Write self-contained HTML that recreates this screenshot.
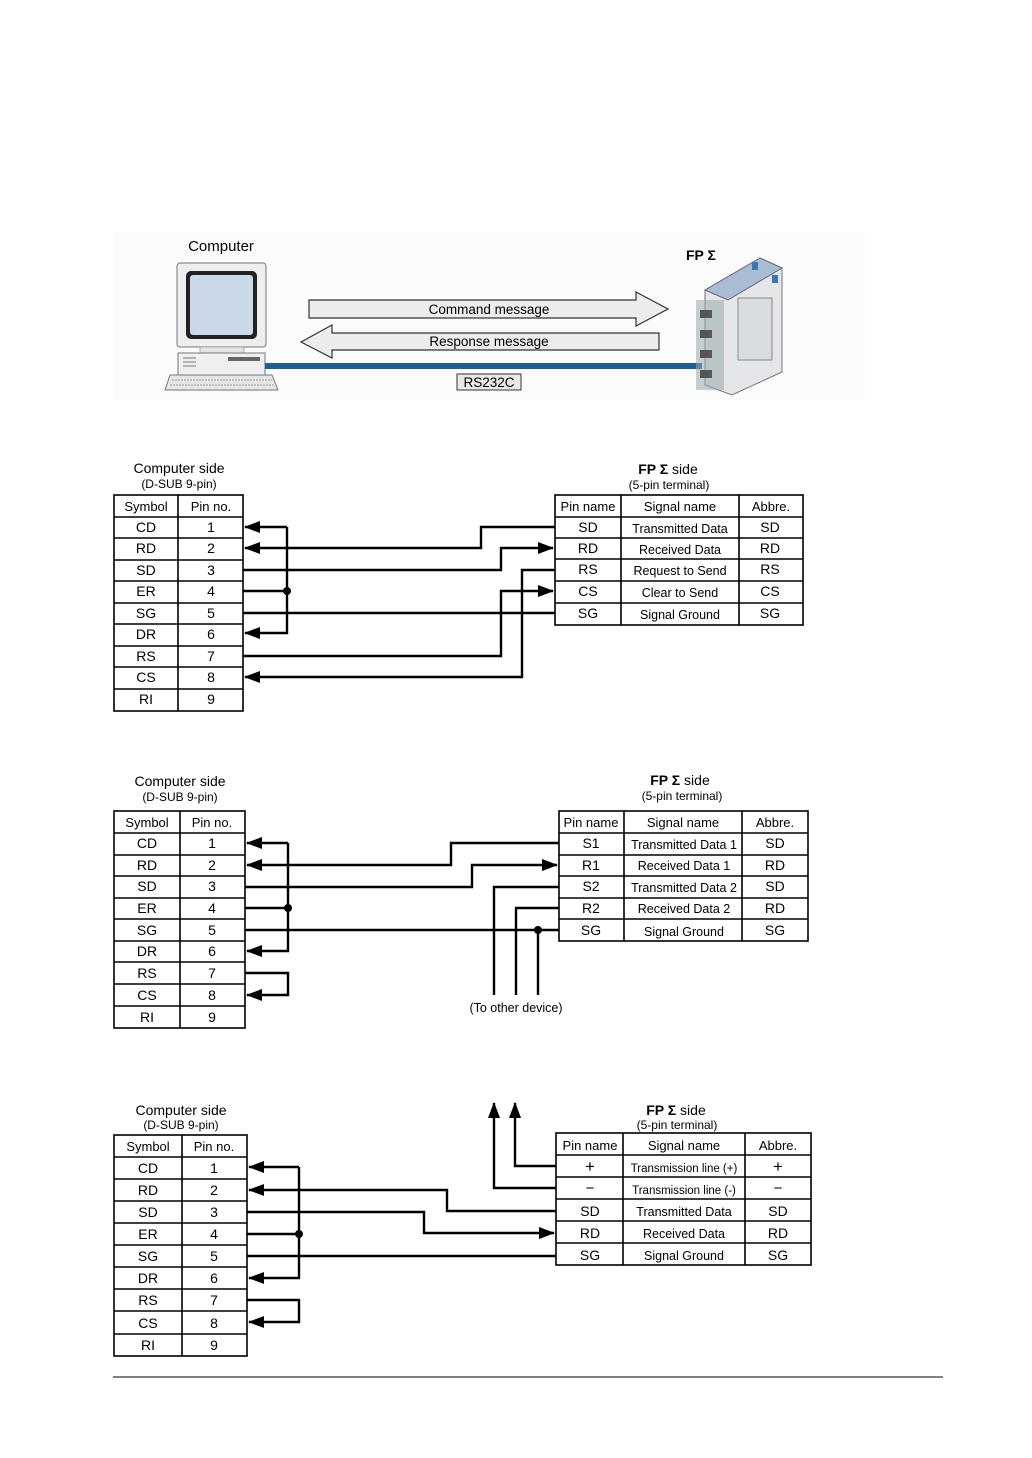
<!DOCTYPE html>
<html><head><meta charset="utf-8"><style>
html,body{margin:0;padding:0;background:#fff;}
svg{display:block;font-family:"Liberation Sans",Arial,sans-serif;}
.t{font-size:14px;text-anchor:middle;}
.s{font-size:12.5px;text-anchor:middle;}
.h{font-size:13px;text-anchor:middle;}
.w{stroke:#000;stroke-width:2.4;fill:none;}
.g{stroke:#000;stroke-width:1.6;fill:none;}
</style></head><body>
<svg width="1032" height="1458" viewBox="0 0 1032 1458" xmlns="http://www.w3.org/2000/svg">
<defs>
<marker id="a" markerWidth="8" markerHeight="8" refX="7" refY="4" orient="auto" markerUnits="userSpaceOnUse" viewBox="0 0 8 8"><path d="M0,0 L8,4 L0,8z" fill="#000"/></marker>
<marker id="b" markerWidth="16" markerHeight="12" refX="15" refY="6" orient="auto" markerUnits="userSpaceOnUse" viewBox="0 0 16 12"><path d="M0,0 L16,6 L0,12z" fill="#000"/></marker>
</defs>

<!-- ===== Top illustration ===== -->
<rect x="113" y="232" width="752" height="168" fill="#fbfbfb"/>
<text x="221" y="251" style="font-size:15px" text-anchor="middle">Computer</text>
<!-- monitor -->
<rect x="177" y="263" width="89" height="84" rx="3" fill="#eee" stroke="#777"/>
<rect x="186" y="271" width="71" height="68" rx="5" fill="#222"/>
<rect x="190" y="275" width="63" height="60" rx="3" fill="#c9d9e8"/>
<rect x="200" y="347" width="44" height="6" fill="#e4e4e4" stroke="#888" stroke-width=".6"/>
<rect x="178" y="353" width="87" height="22" fill="#efefef" stroke="#777"/>
<rect x="228" y="357" width="32" height="4" fill="#666"/>
<line x1="183" y1="358" x2="196" y2="358" stroke="#777"/><line x1="183" y1="362" x2="196" y2="362" stroke="#777"/><line x1="183" y1="366" x2="196" y2="366" stroke="#777"/>
<path d="M170,375 L272,375 L278,390 L165,390z" fill="#e6e6e6" stroke="#777"/>
<path d="M172,380 L272,380 M170,385 L275,385" stroke="#999" stroke-dasharray="2,1"/>
<!-- cable -->
<rect x="265" y="363" width="437" height="6" fill="#1c5f92"/>
<rect x="457" y="374" width="64" height="16" fill="#e8e8e8" stroke="#333"/>
<text x="489" y="387" style="font-size:13.5px" text-anchor="middle">RS232C</text>
<!-- arrows -->
<path d="M309,300 L636,300 L636,292 L668,309 L636,326 L636,318 L309,318z" fill="#ececec" stroke="#333" stroke-width="1.2"/>
<text x="489" y="314" style="font-size:13.5px" text-anchor="middle">Command message</text>
<path d="M659,333 L659,350 L332,350 L332,358 L301,342 L332,325 L332,333z" fill="#ececec" stroke="#333" stroke-width="1.2"/>
<text x="489" y="346" style="font-size:13.5px" text-anchor="middle">Response message</text>
<!-- PLC -->
<text x="686" y="260" style="font-size:14px;font-weight:bold">FP Σ</text>
<path d="M705,290 L760,258 L782,268 L782,372 L732,395 L705,385z" fill="#e4e6ea" stroke="#777"/>
<path d="M705,290 L760,258 L782,268 L728,300z" fill="#a9bdd2" stroke="#667"/>
<rect x="738" y="298" width="34" height="62" fill="#d8dbe0" stroke="#888"/>
<rect x="696" y="300" width="28" height="90" fill="#9aa" opacity=".55"/>
<g fill="#555"><rect x="700" y="310" width="12" height="8"/><rect x="700" y="330" width="12" height="8"/><rect x="700" y="350" width="12" height="8"/><rect x="700" y="370" width="12" height="8"/></g>
<rect x="752" y="262" width="6" height="8" fill="#3a78b5"/><rect x="772" y="275" width="6" height="8" fill="#3a78b5"/>

<!-- ===== Diagram 1 ===== -->
<text x="179" y="473" class="t">Computer side</text>
<text x="179" y="488" style="font-size:12px" text-anchor="middle">(D-SUB 9-pin)</text>
<text x="668" y="474" class="t"><tspan font-weight="bold">FP Σ</tspan> side</text>
<text x="669" y="489" style="font-size:12px" text-anchor="middle">(5-pin terminal)</text>
<g class="g">
<rect x="114" y="495" width="129" height="216"/>
<line x1="178" y1="495" x2="178" y2="711"/>
<path d="M114,517H243M114,538H243M114,560H243M114,581H243M114,603H243M114,624H243M114,646H243M114,667H243M114,689H243"/>
<rect x="555" y="495" width="248" height="130"/>
<path d="M621,495V625M739,495V625M555,517H803M555,538H803M555,559H803M555,581H803M555,603H803"/>
</g>
<g class="h"><text x="146" y="511">Symbol</text><text x="211" y="511">Pin no.</text></g>
<g class="t">
<text x="146" y="532">CD</text><text x="211" y="532">1</text>
<text x="146" y="553">RD</text><text x="211" y="553">2</text>
<text x="146" y="575">SD</text><text x="211" y="575">3</text>
<text x="146" y="596">ER</text><text x="211" y="596">4</text>
<text x="146" y="618">SG</text><text x="211" y="618">5</text>
<text x="146" y="639">DR</text><text x="211" y="639">6</text>
<text x="146" y="661">RS</text><text x="211" y="661">7</text>
<text x="146" y="682">CS</text><text x="211" y="682">8</text>
<text x="146" y="704">RI</text><text x="211" y="704">9</text>
<text x="588" y="532">SD</text><text x="770" y="532">SD</text>
<text x="588" y="553">RD</text><text x="770" y="553">RD</text>
<text x="588" y="574">RS</text><text x="770" y="574">RS</text>
<text x="588" y="596">CS</text><text x="770" y="596">CS</text>
<text x="588" y="618">SG</text><text x="770" y="618">SG</text>
</g>
<g class="h"><text x="588" y="511">Pin name</text><text x="680" y="511">Signal name</text><text x="771" y="511">Abbre.</text></g>
<g class="s">
<text x="680" y="533">Transmitted Data</text><text x="680" y="554">Received Data</text><text x="680" y="575">Request to Send</text><text x="680" y="597">Clear to Send</text><text x="680" y="619">Signal Ground</text>
</g>
<g class="w">
<path d="M287,527H245" marker-end="url(#b)"/>
<path d="M287,527V633H245" marker-end="url(#b)"/>
<path d="M243,591H287"/>
<path d="M555,527H481V548H245" marker-end="url(#b)"/>
<path d="M243,570H501V548H553" marker-end="url(#b)"/>
<path d="M243,613H555"/>
<path d="M243,656H501V591H553" marker-end="url(#b)"/>
<path d="M555,570H522V677H245" marker-end="url(#b)"/>
</g>
<circle cx="287" cy="591" r="4" fill="#000"/>

<!-- ===== Diagram 2 ===== -->
<text x="180" y="786" class="t">Computer side</text>
<text x="180" y="801" style="font-size:12px" text-anchor="middle">(D-SUB 9-pin)</text>
<text x="680" y="785" class="t"><tspan font-weight="bold">FP Σ</tspan> side</text>
<text x="682" y="800" style="font-size:12px" text-anchor="middle">(5-pin terminal)</text>
<g class="g">
<rect x="114" y="811" width="131" height="217"/>
<line x1="180" y1="811" x2="180" y2="1028"/>
<path d="M114,833H245M114,855H245M114,876H245M114,898H245M114,919H245M114,941H245M114,962H245M114,984H245M114,1006H245"/>
<rect x="559" y="811" width="249" height="130"/>
<path d="M624,811V941M742,811V941M559,833H808M559,855H808M559,876H808M559,898H808M559,919H808"/>
</g>
<g class="h"><text x="147" y="827">Symbol</text><text x="212" y="827">Pin no.</text>
<text x="591" y="827">Pin name</text><text x="683" y="827">Signal name</text><text x="775" y="827">Abbre.</text></g>
<g class="t">
<text x="147" y="848">CD</text><text x="212" y="848">1</text>
<text x="147" y="870">RD</text><text x="212" y="870">2</text>
<text x="147" y="891">SD</text><text x="212" y="891">3</text>
<text x="147" y="913">ER</text><text x="212" y="913">4</text>
<text x="147" y="935">SG</text><text x="212" y="935">5</text>
<text x="147" y="956">DR</text><text x="212" y="956">6</text>
<text x="147" y="978">RS</text><text x="212" y="978">7</text>
<text x="147" y="1000">CS</text><text x="212" y="1000">8</text>
<text x="147" y="1022">RI</text><text x="212" y="1022">9</text>
<text x="591" y="848">S1</text><text x="775" y="848">SD</text>
<text x="591" y="870">R1</text><text x="775" y="870">RD</text>
<text x="591" y="891">S2</text><text x="775" y="891">SD</text>
<text x="591" y="913">R2</text><text x="775" y="913">RD</text>
<text x="591" y="935">SG</text><text x="775" y="935">SG</text>
</g>
<g class="s">
<text x="684" y="849">Transmitted Data 1</text><text x="684" y="870">Received Data 1</text><text x="684" y="892">Transmitted Data 2</text><text x="684" y="913">Received Data 2</text><text x="684" y="936">Signal Ground</text>
</g>
<g class="w">
<path d="M288,843H247" marker-end="url(#b)"/>
<path d="M288,843V951H247" marker-end="url(#b)"/>
<path d="M245,908H288"/>
<path d="M559,843H451V865H247" marker-end="url(#b)"/>
<path d="M245,887H472V865H557" marker-end="url(#b)"/>
<path d="M245,930H559"/>
<path d="M559,887H494V995"/>
<path d="M559,908H516V995"/>
<path d="M538,930V995"/>
<path d="M245,973H288V995H247" marker-end="url(#b)"/>
</g>
<circle cx="288" cy="908" r="4" fill="#000"/><circle cx="538" cy="930" r="4" fill="#000"/>
<text x="516" y="1012" style="font-size:12.5px" text-anchor="middle">(To other device)</text>

<!-- ===== Diagram 3 ===== -->
<text x="181" y="1115" class="t">Computer side</text>
<text x="181" y="1129" style="font-size:12px" text-anchor="middle">(D-SUB 9-pin)</text>
<text x="676" y="1115" class="t"><tspan font-weight="bold">FP Σ</tspan> side</text>
<text x="677" y="1129" style="font-size:12px" text-anchor="middle">(5-pin terminal)</text>
<g class="g">
<rect x="114" y="1135" width="133" height="221"/>
<line x1="182" y1="1135" x2="182" y2="1356"/>
<path d="M114,1157H247M114,1179H247M114,1201H247M114,1223H247M114,1245H247M114,1267H247M114,1289H247M114,1311H247M114,1334H247"/>
<rect x="556" y="1133" width="255" height="132"/>
<path d="M623,1133V1265M745,1133V1265M556,1155H811M556,1177H811M556,1199H811M556,1221H811M556,1243H811"/>
</g>
<g class="h"><text x="148" y="1151">Symbol</text><text x="214" y="1151">Pin no.</text>
<text x="590" y="1150">Pin name</text><text x="684" y="1150">Signal name</text><text x="778" y="1150">Abbre.</text></g>
<g class="t">
<text x="148" y="1173">CD</text><text x="214" y="1173">1</text>
<text x="148" y="1195">RD</text><text x="214" y="1195">2</text>
<text x="148" y="1217">SD</text><text x="214" y="1217">3</text>
<text x="148" y="1239">ER</text><text x="214" y="1239">4</text>
<text x="148" y="1261">SG</text><text x="214" y="1261">5</text>
<text x="148" y="1283">DR</text><text x="214" y="1283">6</text>
<text x="148" y="1305">RS</text><text x="214" y="1305">7</text>
<text x="148" y="1328">CS</text><text x="214" y="1328">8</text>
<text x="148" y="1350">RI</text><text x="214" y="1350">9</text>
<text x="590" y="1172" style="font-size:17px">+</text><text x="778" y="1172" style="font-size:17px">+</text>
<text x="590" y="1193" style="font-size:15px">−</text><text x="778" y="1193" style="font-size:15px">−</text>
<text x="590" y="1216">SD</text><text x="778" y="1216">SD</text>
<text x="590" y="1238">RD</text><text x="778" y="1238">RD</text>
<text x="590" y="1260">SG</text><text x="778" y="1260">SG</text>
</g>
<g class="s">
<text x="684" y="1172" style="font-size:11.5px">Transmission line (+)</text><text x="684" y="1194" style="font-size:11.5px">Transmission line (-)</text>
<text x="684" y="1216">Transmitted Data</text><text x="684" y="1238">Received Data</text><text x="684" y="1260">Signal Ground</text>
</g>
<g class="w">
<path d="M299,1167H249" marker-end="url(#b)"/>
<path d="M299,1167V1278H249" marker-end="url(#b)"/>
<path d="M247,1234H299"/>
<path d="M556,1211H447V1190H249" marker-end="url(#b)"/>
<path d="M247,1212H424V1233H554" marker-end="url(#b)"/>
<path d="M247,1256H556"/>
<path d="M247,1300H299V1322H249" marker-end="url(#b)"/>
<path d="M556,1166H515V1103" marker-end="url(#b)"/>
<path d="M556,1188H494V1103" marker-end="url(#b)"/>
</g>
<circle cx="299" cy="1234" r="4" fill="#000"/>

<line x1="113" y1="1377" x2="943" y2="1377" stroke="#000" stroke-width="1"/>
</svg>
</body></html>
